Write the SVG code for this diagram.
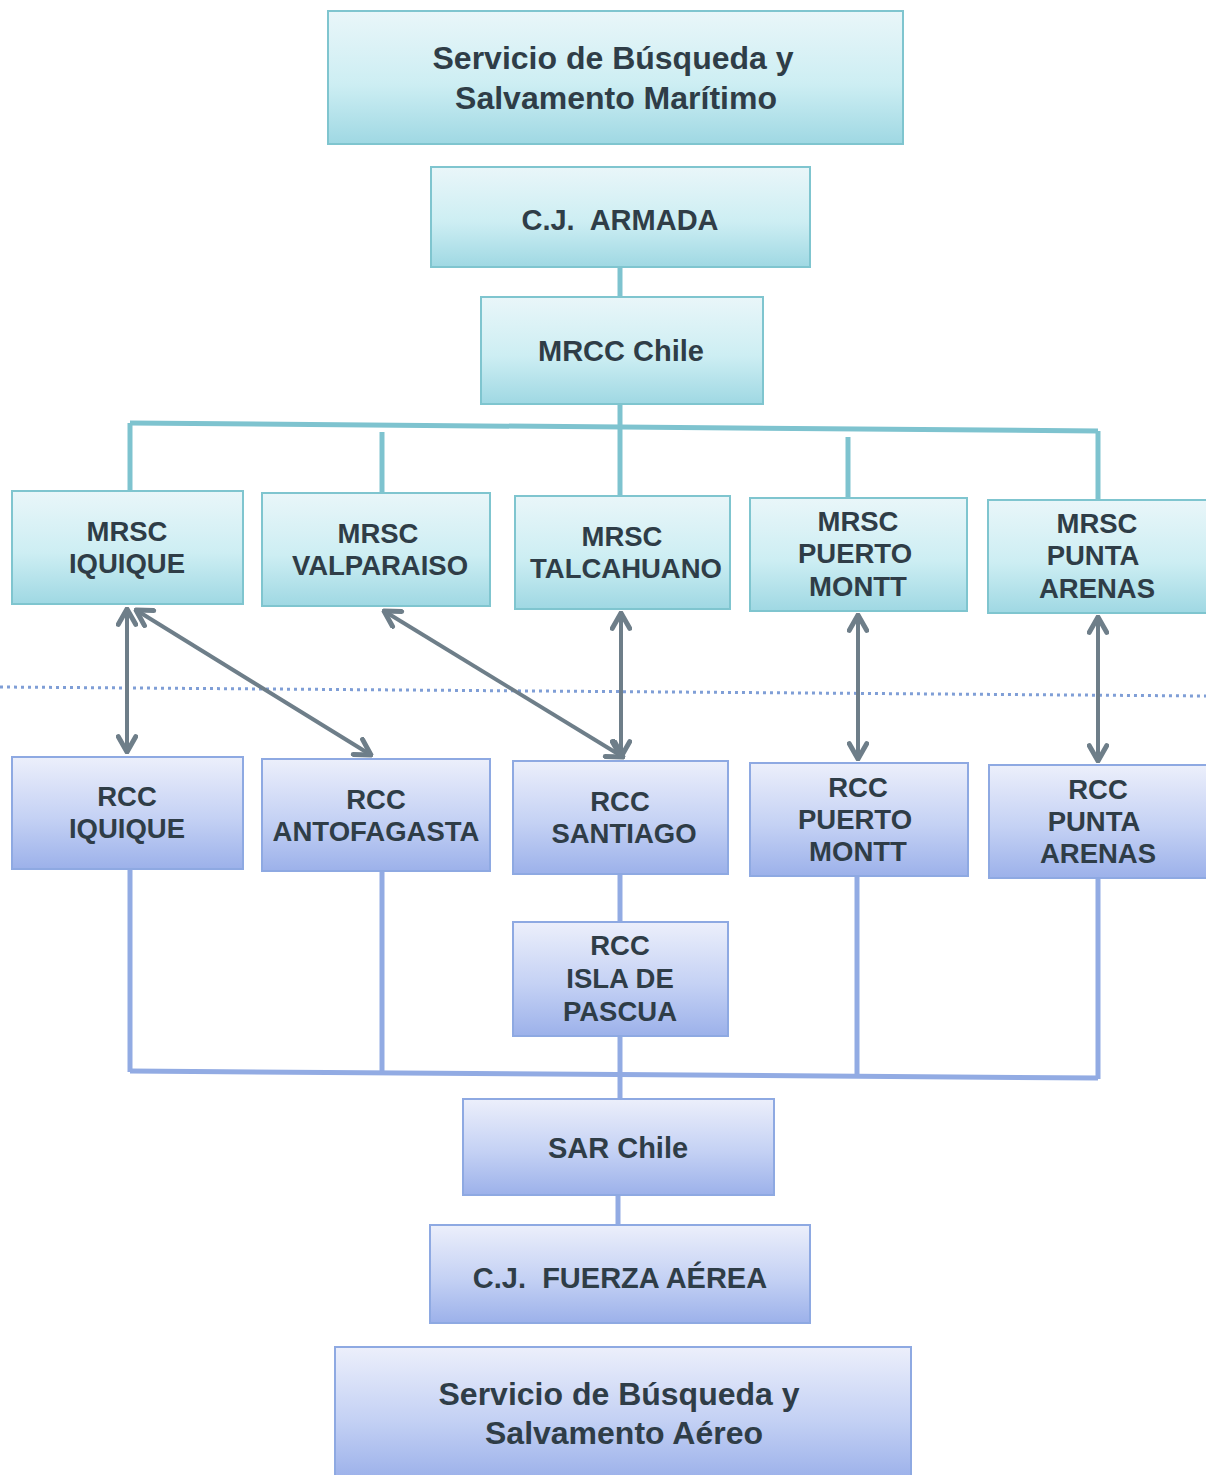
<svg xmlns="http://www.w3.org/2000/svg" width="1206" height="1475" viewBox="0 0 1206 1475">
<defs>
<linearGradient id="gc" x1="0" y1="0" x2="0" y2="1">
<stop offset="0" stop-color="#e9f6f9"/>
<stop offset="0.55" stop-color="#cdeef3"/>
<stop offset="1" stop-color="#9fd8e3"/>
</linearGradient>
<linearGradient id="gb" x1="0" y1="0" x2="0" y2="1">
<stop offset="0" stop-color="#eceffb"/>
<stop offset="0.55" stop-color="#c4d1f4"/>
<stop offset="1" stop-color="#9cb1ea"/>
</linearGradient>
<marker id="ah" viewBox="0 0 20 20" refX="18" refY="10" markerWidth="5.5" markerHeight="5.5" orient="auto-start-reverse" markerUnits="strokeWidth">
<path d="M4,2 L18,10 L4,18" fill="none" stroke="#6e7e89" stroke-width="4.5" stroke-linecap="round" stroke-linejoin="round"/>
</marker>
<style>
.c{fill:url(#gc);stroke:#7fc5cf;stroke-width:2}
.b{fill:url(#gb);stroke:#8ea9e2;stroke-width:2}
.t{font-family:"Liberation Sans",Arial,sans-serif;font-weight:bold;fill:#2f3d47;text-anchor:middle}
.s27{font-size:27.5px}
.s28{font-size:29px}
.s31{font-size:32px}
.lc{stroke:#7ec3cf;stroke-width:5;fill:none}
.lb{stroke:#92abe3;stroke-width:5;fill:none}
.ar{stroke:#6e7e89;stroke-width:4;fill:none;marker-start:url(#ah);marker-end:url(#ah)}
.dot{stroke:#7f9ed6;stroke-width:3;stroke-dasharray:3 4;fill:none}
</style>
</defs>
<rect width="1206" height="1475" fill="#ffffff"/>

<g id="connectors">
<line class="lc" x1="620" y1="267" x2="620" y2="297"/>
<line class="lc" x1="620" y1="404" x2="620" y2="426"/>
<path class="lc" d="M130,423 L1098,431"/>
<line class="lc" x1="130" y1="423" x2="130" y2="491"/>
<line class="lc" x1="382" y1="432" x2="382" y2="494"/>
<line class="lc" x1="620" y1="426" x2="620" y2="496"/>
<line class="lc" x1="848" y1="437" x2="848" y2="498"/>
<line class="lc" x1="1098" y1="431" x2="1098" y2="500"/>
<line class="dot" x1="0" y1="687" x2="1206" y2="696"/>
<line class="ar" x1="127" y1="609" x2="127" y2="752"/>
<line class="ar" x1="136" y1="610" x2="371" y2="755"/>
<line class="ar" x1="384" y1="611" x2="623" y2="757"/>
<line class="ar" x1="621" y1="613" x2="621" y2="757"/>
<line class="ar" x1="858" y1="615" x2="858" y2="759"/>
<line class="ar" x1="1098" y1="617" x2="1098" y2="761"/>
<line class="lb" x1="130" y1="869" x2="130" y2="1072"/>
<line class="lb" x1="382" y1="871" x2="382" y2="1073"/>
<line class="lb" x1="620" y1="874" x2="620" y2="923"/>
<line class="lb" x1="620" y1="1036" x2="620" y2="1100"/>
<line class="lb" x1="857" y1="876" x2="857" y2="1076"/>
<line class="lb" x1="1098" y1="878" x2="1098" y2="1079"/>
<path class="lb" d="M130,1071 L1098,1078"/>
<line class="lb" x1="618" y1="1195" x2="618" y2="1226"/>
</g>

<g id="n-sbsm">
<rect class="c" x="328" y="11" width="575" height="133"/>
<text class="t s31" x="613" y="69">Servicio de Búsqueda y</text>
<text class="t s31" x="616" y="109">Salvamento Marítimo</text>
</g>
<g id="n-cjarmada">
<rect class="c" x="431" y="167" width="379" height="100"/>
<text class="t s28" x="620" y="230" xml:space="preserve">C.J.  ARMADA</text>
</g>
<g id="n-mrcc">
<rect class="c" x="481" y="297" width="282" height="107"/>
<text class="t s28" x="621" y="361">MRCC Chile</text>
</g>

<g id="n-mrsc-iquique">
<rect class="c" x="12" y="491" width="231" height="113"/>
<text class="t s27" x="127" y="541">MRSC</text>
<text class="t s27" x="127" y="573">IQUIQUE</text>
</g>
<g id="n-mrsc-valparaiso">
<rect class="c" x="262" y="493" width="228" height="113"/>
<text class="t s27" x="378" y="543">MRSC</text>
<text class="t s27" x="380" y="575">VALPARAISO</text>
</g>
<g id="n-mrsc-talcahuano">
<rect class="c" x="515" y="496" width="215" height="113"/>
<text class="t s27" x="622" y="546">MRSC</text>
<text class="t s27" x="626" y="578">TALCAHUANO</text>
</g>
<g id="n-mrsc-puertomontt">
<rect class="c" x="750" y="498" width="217" height="113"/>
<text class="t s27" x="858" y="531">MRSC</text>
<text class="t s27" x="855" y="563">PUERTO</text>
<text class="t s27" x="858" y="596">MONTT</text>
</g>
<g id="n-mrsc-puntaarenas">
<rect class="c" x="988" y="500" width="220" height="113"/>
<text class="t s27" x="1097" y="533">MRSC</text>
<text class="t s27" x="1093" y="565">PUNTA</text>
<text class="t s27" x="1097" y="598">ARENAS</text>
</g>

<g id="n-rcc-iquique">
<rect class="b" x="12" y="757" width="231" height="112"/>
<text class="t s27" x="127" y="806">RCC</text>
<text class="t s27" x="127" y="838">IQUIQUE</text>
</g>
<g id="n-rcc-antofagasta">
<rect class="b" x="262" y="759" width="228" height="112"/>
<text class="t s27" x="376" y="809">RCC</text>
<text class="t s27" x="376" y="841">ANTOFAGASTA</text>
</g>
<g id="n-rcc-santiago">
<rect class="b" x="513" y="761" width="215" height="113"/>
<text class="t s27" x="620" y="811">RCC</text>
<text class="t s27" x="624" y="843">SANTIAGO</text>
</g>
<g id="n-rcc-puertomontt">
<rect class="b" x="750" y="763" width="218" height="113"/>
<text class="t s27" x="858" y="797">RCC</text>
<text class="t s27" x="855" y="829">PUERTO</text>
<text class="t s27" x="858" y="861">MONTT</text>
</g>
<g id="n-rcc-puntaarenas">
<rect class="b" x="989" y="765" width="219" height="113"/>
<text class="t s27" x="1098" y="799">RCC</text>
<text class="t s27" x="1094" y="831">PUNTA</text>
<text class="t s27" x="1098" y="863">ARENAS</text>
</g>
<g id="n-rcc-isladepascua">
<rect class="b" x="513" y="922" width="215" height="114"/>
<text class="t s27" x="620" y="955">RCC</text>
<text class="t s27" x="620" y="988">ISLA DE</text>
<text class="t s27" x="620" y="1021">PASCUA</text>
</g>

<g id="n-sarchile">
<rect class="b" x="463" y="1099" width="311" height="96"/>
<text class="t s28" x="618" y="1158">SAR Chile</text>
</g>
<g id="n-cjfuerza">
<rect class="b" x="430" y="1225" width="380" height="98"/>
<text class="t s28" x="620" y="1288" xml:space="preserve">C.J.  FUERZA AÉREA</text>
</g>
<g id="n-sbsa">
<rect class="b" x="335" y="1347" width="576" height="132"/>
<text class="t s31" x="619" y="1405">Servicio de Búsqueda y</text>
<text class="t s31" x="624" y="1444">Salvamento Aéreo</text>
</g>
</svg>
